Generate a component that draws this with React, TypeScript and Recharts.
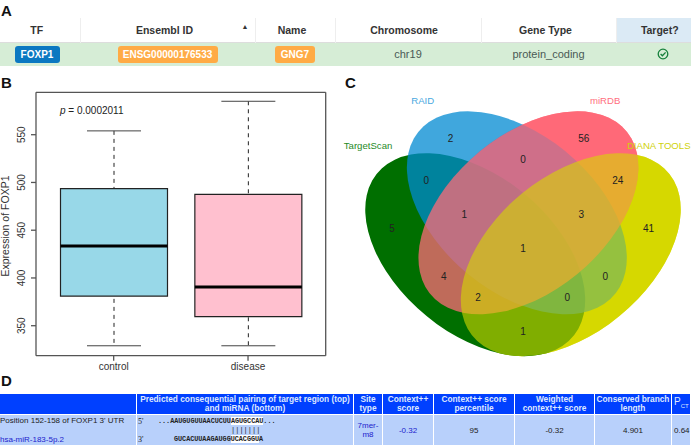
import React from 'react';
import {
  Bar,
  Cell,
  ComposedChart,
  Scatter,
  ScatterChart,
  XAxis,
  YAxis,
} from 'recharts';

// panel B: box plot stats
const groups = ['control', 'disease'];
const whiskerLow = [329, 329];
const quartile1 = [381, 359.5];
const medians = [433.5, 390.5];
const quartile3 = [493.5, 487.5];
const whiskerHigh = [554, 585];
const boxFills = ['#98d8e8', '#ffc0cf'];
const expressionTicks = [350, 400, 450, 500, 550];

// panel C: venn diagram, coordinates in a 0..1 space
const vennSets = ['TargetScan', 'RAID', 'miRDB', 'DIANA TOOLS'];
const vennCentreX = [0.368, 0.483, 0.515, 0.632];
const vennCentreY = [0.462, 0.5765, 0.5765, 0.462];
const vennNameX = [0.072, 0.223, 0.727, 0.875];
const vennNameY = [0.76, 0.883, 0.883, 0.76];
const vennCounts = ['2', '56', '0', '0', '24', '1', '3', '5', '41', '1', '4', '0', '2', '0', '1'];
const vennCountX = [0.3, 0.668, 0.5, 0.233, 0.762, 0.338, 0.661, 0.138, 0.847, 0.5, 0.281, 0.727, 0.376, 0.622, 0.5];
const vennCountY = [0.78, 0.78, 0.723, 0.666, 0.666, 0.572, 0.572, 0.534, 0.534, 0.478, 0.403, 0.403, 0.346, 0.346, 0.253];

// panel A: table
const tfHeaders = ['TF', 'Ensembl ID', 'Name', 'Chromosome', 'Gene Type', 'Target?'];
const tfRow = ['FOXP1', 'ENSG00000176533', 'GNG7', 'chr19', 'protein_coding'];

// panel D: table
const scanHeaders = [
  'Predicted consequential pairing of target region (top)\nand miRNA (bottom)',
  'Site\ntype',
  'Context++\nscore',
  'Context++ score\npercentile',
  'Weighted\ncontext++ score',
  'Conserved branch\nlength',
];
const scanRow = ['7mer-\nm8', '-0.32', '95', '-0.32', '4.901', '0.64'];

const boxData = groups.map((group, i) => ({
  group,
  whisker: [whiskerLow[i], whiskerHigh[i]],
  box: [quartile1[i], quartile3[i]],
  median: [medians[i], medians[i]],
}));

const vennLayers = [
  { set: 3, solid: true },
  { set: 2, solid: true },
  { set: 0, solid: true },
  { set: 1, solid: false },
  { set: 2, solid: false },
  { set: 3, solid: false },
].map((l) => ({ ...l, x: vennCentreX[l.set], y: vennCentreY[l.set] }));
const vennNames = vennSets.map((name, i) => ({ name, i, x: vennNameX[i], y: vennNameY[i] }));
const vennLabels = vennCounts.map((count, i) => ({ count, x: vennCountX[i], y: vennCountY[i] }));

const FONT = '"Liberation Sans", Arial, sans-serif';
const UNIT = 362; // px per venn unit
const setOpaque = ['#006f00', '#41a7dd', '#ff6a78', '#d6d800'];
const setColour = ['#006f00', '#0089d1', '#ff6a78', '#d6d800'];
const setAlpha = [1, 0.75, 0.75, 0.6];
const setRotate = [45, 45, -45, -45];
const nameColour = ['#1f8a1f', '#4aa8e0', '#ff6f80', '#cfd20a'];

const WhiskerShape = (props: any) => {
  const { x, y, width, height } = props;
  const mid = x + width / 2;
  return (
    <g stroke="#222" strokeWidth={1}>
      <line x1={mid} x2={mid} y1={y} y2={y + height} strokeDasharray="4 4" />
      <line x1={mid - 27} x2={mid + 27} y1={y} y2={y} stroke="#444" />
      <line x1={mid - 27} x2={mid + 27} y1={y + height} y2={y + height} stroke="#444" />
    </g>
  );
};

const MedianShape = (props: any) => {
  const { x, y, width } = props;
  return <line x1={x} x2={x + width} y1={y} y2={y} stroke="#000" strokeWidth={3} />;
};

const YTick = (props: any) => {
  const { y, payload } = props;
  return (
    <text
      x={22}
      y={y}
      transform={`rotate(-90 22 ${y})`}
      textAnchor="middle"
      dominantBaseline="central"
      fontSize={10}
      fontFamily={FONT}
      fill="#333"
    >
      {payload.value}
    </text>
  );
};

const BoxPanel = () => (
  <ComposedChart
    width={340}
    height={385}
    data={boxData}
    barGap={-107}
    barSize={107}
    margin={{ top: 21.3, right: 13.3, bottom: 69.3, left: 0 }}
  >
    <XAxis
      dataKey="group"
      padding={{ left: 10.5, right: 10.5 }}
      height={30}
      stroke="#555"
      strokeWidth={1.3}
      tickSize={5}
      tick={{ fontSize: 10, fill: '#333', fontFamily: FONT }}
      interval={0}
    />
    <XAxis xAxisId="top" orientation="top" height={1} tick={false} tickLine={false} stroke="#555" strokeWidth={1.3} />
    <YAxis
      type="number"
      domain={[318.6, 594.4]}
      ticks={expressionTicks}
      allowDataOverflow
      width={36}
      stroke="#555"
      strokeWidth={1.3}
      tickSize={5}
      tick={<YTick />}
    />
    <YAxis yAxisId="right" orientation="right" width={1} tick={false} tickLine={false} stroke="#555" strokeWidth={1.3} />
    <Bar dataKey="whisker" shape={<WhiskerShape />} isAnimationActive={false} />
    <Bar dataKey="box" stroke="#222" strokeWidth={1.2} isAnimationActive={false}>
      {boxFills.map((fill) => (
        <Cell key={fill} fill={fill} />
      ))}
    </Bar>
    <Bar dataKey="median" shape={<MedianShape />} isAnimationActive={false} />
  </ComposedChart>
);

// the ellipses are a little wider than tall once rotated
const EllipseShape = (props: any) => {
  const { cx, cy, payload } = props;
  const s = payload.set;
  return (
    <ellipse
      rx={122}
      ry={75.5}
      transform={`translate(${cx} ${cy}) scale(1.084 1) rotate(${setRotate[s]})`}
      fill={payload.solid ? setOpaque[s] : setColour[s]}
      fillOpacity={payload.solid ? 1 : setAlpha[s]}
    />
  );
};

const NameShape = (props: any) => (
  <text
    x={props.cx}
    y={props.cy}
    textAnchor="middle"
    dominantBaseline="central"
    fontSize={9.6}
    fontFamily={FONT}
    fill={nameColour[props.payload.i]}
  >
    {props.payload.name}
  </text>
);

const CountShape = (props: any) => (
  <text
    x={props.cx}
    y={props.cy}
    textAnchor="middle"
    dominantBaseline="central"
    fontSize={10}
    fontFamily={FONT}
    fill="#222"
  >
    {props.payload.count}
  </text>
);

const VennPanel = () => (
  <ScatterChart width={UNIT} height={293} margin={{ top: 0, right: 0, bottom: 0, left: 0 }}>
    <XAxis type="number" dataKey="x" domain={[0, 1]} hide />
    <YAxis type="number" dataKey="y" domain={[0.15, 0.95]} hide />
    {/* opaque under-layers keep the single-set regions saturated, translucent ones mix the overlaps */}
    <Scatter data={vennLayers} shape={<EllipseShape />} isAnimationActive={false} />
    <Scatter data={vennNames} shape={<NameShape />} isAnimationActive={false} />
    <Scatter data={vennLabels} shape={<CountShape />} isAnimationActive={false} />
  </ScatterChart>
);

const PanelLetter = ({ text, x, y }: { text: string; x: number; y: number }) => (
  <div style={{ position: 'absolute', left: x, top: y, fontFamily: FONT, fontWeight: 'bold', fontSize: 15, lineHeight: '15px', color: '#111' }}>
    {text}
  </div>
);

const Badge = ({ text, bg, w }: { text: string; bg: string; w: number }) => (
  <span
    style={{
      display: 'inline-block',
      width: w,
      height: 17,
      lineHeight: '17px',
      background: bg,
      color: '#fff',
      fontWeight: 'bold',
      fontSize: 10,
      borderRadius: 3,
      textAlign: 'center',
    }}
  >
    {text}
  </span>
);

const tfColWidths = [80, 175, 80, 146, 135, 75];
const tfHeaderShift = [-3, -3, -3, -4, -3, 6];

const TfTable = () => (
  <table
    style={{
      position: 'absolute',
      left: 0,
      top: 18,
      width: 691,
      tableLayout: 'fixed',
      borderCollapse: 'collapse',
      fontFamily: FONT,
      fontSize: 10.5,
      color: '#333',
    }}
  >
    <colgroup>
      {tfColWidths.map((w, i) => (
        <col key={i} style={{ width: w }} />
      ))}
    </colgroup>
    <tbody>
      <tr style={{ height: 24, borderBottom: '1px solid #ddd' }}>
        {tfHeaders.map((h, i) => (
          <th
            key={h}
            style={{
              padding: 0,
              position: 'relative',
              borderLeft: i ? '1px solid #eee' : 'none',
              background: i === 5 ? '#dbeaf5' : '#fff',
            }}
          >
            <span style={{ position: 'relative', left: tfHeaderShift[i] }}>{h}</span>
            {i === 1 && <span style={{ position: 'absolute', left: 161, top: 5, fontSize: 7 }}>▲</span>}
          </th>
        ))}
      </tr>
      <tr style={{ height: 24, background: '#d6edd6', textAlign: 'center', color: '#4a5a55', fontSize: 11 }}>
        <td style={{ padding: 0 }}>
          <span style={{ position: 'relative', left: -3 }}>
            <Badge text={tfRow[0]} bg="#0b78c1" w={45} />
          </span>
        </td>
        <td style={{ padding: 0 }}>
          <Badge text={tfRow[1]} bg="#ffab45" w={100} />
        </td>
        <td style={{ padding: 0 }}>
          <Badge text={tfRow[2]} bg="#ffab45" w={40} />
        </td>
        <td style={{ padding: 0 }}>{tfRow[3]}</td>
        <td style={{ padding: 0 }}>{tfRow[4]}</td>
        <td style={{ padding: 0 }}>
          <svg width={12} height={12} viewBox="0 0 12 12" style={{ position: 'relative', left: 9, top: 1 }}>
            <circle cx={6} cy={6} r={4.8} fill="none" stroke="#16803c" strokeWidth={1.3} />
            <path d="M3.6 6 L5.4 7.8 L8.6 4.4" fill="none" stroke="#16803c" strokeWidth={1.3} />
          </svg>
        </td>
      </tr>
    </tbody>
  </table>
);

const scanColWidths = [136, 216, 28, 50, 80, 79, 76, 18];
const blue = '#0040ff';
const pale = '#b8d0fb';

const alignStyle: React.CSSProperties = {
  position: 'absolute',
  fontFamily: '"Liberation Mono", monospace',
  fontWeight: 'bold',
  fontSize: 6.75,
  color: '#222',
  whiteSpace: 'pre',
  lineHeight: '9px',
};
const primeStyle: React.CSSProperties = { ...alignStyle, fontFamily: '"Liberation Serif", serif', fontWeight: 'normal', fontSize: 8 };

const ScanTable = () => (
  <table
    style={{
      position: 'absolute',
      left: -1,
      top: 393,
      width: 692,
      tableLayout: 'fixed',
      borderCollapse: 'separate',
      borderSpacing: '1px 1px',
      margin: 0,
      fontFamily: FONT,
      fontSize: 8,
      color: '#222',
    }}
  >
    <colgroup>
      {scanColWidths.map((w, i) => (
        <col key={i} style={{ width: w }} />
      ))}
    </colgroup>
    <tbody>
      <tr style={{ height: 20, background: blue, color: '#dfe8ff', fontWeight: 'bold', textAlign: 'center', lineHeight: '9.5px', fontSize: 8.3 }}>
        <td style={{ padding: 0 }} />
        {scanHeaders.map((h) => (
          <td key={h} style={{ padding: 0, whiteSpace: 'pre-line' }}>
            {h}
          </td>
        ))}
        <td style={{ padding: '0 0 0 2px', fontSize: 10, textAlign: 'left', fontWeight: 'normal', whiteSpace: 'nowrap' }}>
          P<sub style={{ fontSize: 6 }}>CT</sub>
        </td>
      </tr>
      <tr style={{ height: 30, background: pale, textAlign: 'center', verticalAlign: 'middle' }}>
        <td style={{ padding: 0, position: 'relative', textAlign: 'left' }}>
          <div style={{ position: 'absolute', left: 0, top: 1, whiteSpace: 'nowrap' }}>Position 152-158 of FOXP1 3' UTR</div>
          <div style={{ position: 'absolute', left: 0, top: 20, whiteSpace: 'nowrap', color: '#2222cc' }}>hsa-miR-183-5p.2</div>
        </td>
        <td style={{ padding: 0, position: 'relative' }}>
          <div style={{ ...primeStyle, left: 1, top: 2 }}>5'</div>
          <div style={{ ...alignStyle, left: 21, top: 2 }}>
            {'...AAUGUGUUAACUCUU'}
            <span style={{ background: '#fff' }}>AGUGCCAU</span>
            {'...'}
          </div>
          <div style={{ ...alignStyle, left: 94, top: 11, fontWeight: 'normal', fontSize: 7 }}>|||||||</div>
          <div style={{ ...primeStyle, left: 1, top: 20 }}>3'</div>
          <div style={{ ...alignStyle, left: 37, top: 20 }}>
            {'GUCACUUAAGAUGG'}
            <span style={{ background: '#fff' }}>UCACGGU</span>
            {'A'}
          </div>
        </td>
        <td style={{ padding: 0, color: '#2222cc', lineHeight: '9.5px', whiteSpace: 'pre-line' }}>{scanRow[0]}</td>
        <td style={{ padding: 0, color: '#2222cc' }}>{scanRow[1]}</td>
        <td style={{ padding: 0 }}>{scanRow[2]}</td>
        <td style={{ padding: 0 }}>{scanRow[3]}</td>
        <td style={{ padding: 0 }}>{scanRow[4]}</td>
        <td style={{ padding: '0 0 0 2px', textAlign: 'left', whiteSpace: 'nowrap' }}>{scanRow[5]}</td>
      </tr>
    </tbody>
  </table>
);

export default function App() {
  return (
    <div style={{ position: 'absolute', left: 0, top: 0, width: 691, height: 445, overflow: 'hidden', background: '#fff' }}>
      <PanelLetter text="A" x={1} y={3} />
      <PanelLetter text="B" x={1} y={75} />
      <PanelLetter text="C" x={345} y={75} />
      <PanelLetter text="D" x={1} y={373} />
      <TfTable />
      <div style={{ position: 'absolute', left: 0, top: 70 }}>
        <BoxPanel />
      </div>
      <div style={{ position: 'absolute', left: 60, top: 105, fontFamily: FONT, fontSize: 10, color: '#222', whiteSpace: 'nowrap' }}>
        <i>p</i> = 0.0002011
      </div>
      <div
        style={{
          position: 'absolute',
          left: 1,
          top: 226,
          fontFamily: FONT,
          fontSize: 10.5,
          color: '#333',
          whiteSpace: 'nowrap',
          transform: 'translate(-50%, -50%) rotate(-90deg)',
          marginLeft: 4,
        }}
      >
        Expression of FOXP1
      </div>
      <div style={{ position: 'absolute', left: 342, top: 76 }}>
        <VennPanel />
      </div>
      <ScanTable />
    </div>
  );
}
